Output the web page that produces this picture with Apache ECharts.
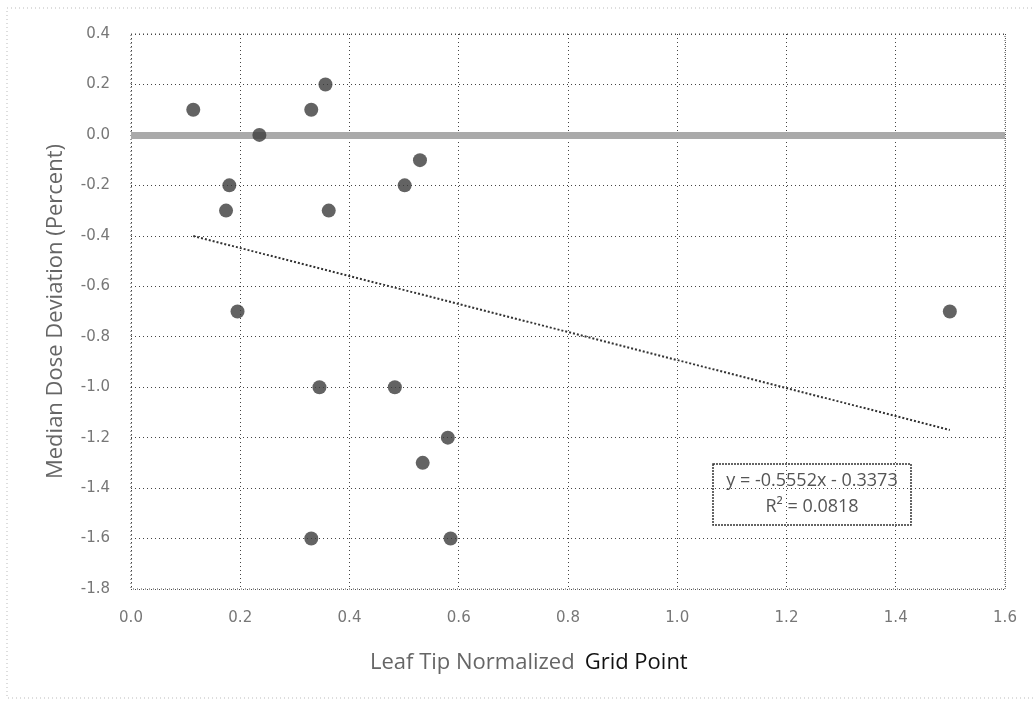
<!DOCTYPE html>
<html>
<head>
<meta charset="utf-8">
<title>Median Dose Deviation</title>
<script src="https://cdn.jsdelivr.net/npm/echarts@6/dist/echarts.min.js"></script>
<style>
  html, body { margin: 0; padding: 0; background: #fff; }
  #chart { width: 1035px; height: 701px; }
</style>
</head>
<body>
<div id="chart"></div>
<script>
// leaf tip normalized grid point (x) and median dose deviation in percent (y)
const gridPoint = [0.114, 0.356, 0.330, 0.235, 0.529, 0.501, 0.180, 0.174, 0.362, 0.195,
  0.345, 0.483, 0.580, 0.534, 0.330, 0.585, 1.499]
const doseDeviation = [0.1, 0.2, 0.1, 0.0, -0.1, -0.2, -0.2, -0.3, -0.3, -0.7,
  -1.0, -1.0, -1.2, -1.3, -1.6, -1.6, -0.7]

// linear trend as printed on the chart
const trendSlope = -0.5552
const trendIntercept = -0.3373
const trendR2 = 0.0818

const xTicks = [0.0, 0.2, 0.4, 0.6, 0.8, 1.0, 1.2, 1.4, 1.6]
const yTicks = [0.4, 0.2, 0.0, -0.2, -0.4, -0.6, -0.8, -1.0, -1.2, -1.4, -1.6, -1.8]

const points = gridPoint.map((x, i) => [x, doseDeviation[i]])
const xMinData = Math.min(...gridPoint)
const xMaxData = Math.max(...gridPoint)
const trendLine = [xMinData, xMaxData].map(x => [x, trendSlope * x + trendIntercept])

const chart = echarts.init(document.getElementById('chart'))

const labelFont = 'Open Sans, DejaVu Sans, sans-serif'
const tickFont = 'DejaVu Sans, sans-serif'
const gridLine = { type: [1, 3], color: '#444', width: 1 }

const option = {
  backgroundColor: '#fff',
  animation: false,
  grid: { left: 131, right: 30, top: 34, bottom: 112 },
  xAxis: {
    type: 'value',
    min: xTicks[0],
    max: xTicks[xTicks.length - 1],
    interval: 0.2,
    axisLine: { show: false },
    axisTick: { show: false },
    splitLine: { show: true, lineStyle: gridLine },
    axisLabel: {
      margin: 22,
      color: '#777',
      fontSize: 15,
      fontFamily: tickFont,
      formatter: v => v.toFixed(1)
    }
  },
  yAxis: {
    type: 'value',
    min: yTicks[yTicks.length - 1],
    max: yTicks[0],
    interval: 0.2,
    axisLine: { show: false },
    axisTick: { show: false },
    splitLine: { show: true, lineStyle: gridLine },
    axisLabel: {
      margin: 21,
      color: '#777',
      fontSize: 15,
      fontFamily: tickFont,
      formatter: v => v.toFixed(1)
    },
    name: 'Median Dose Deviation (Percent)',
    nameLocation: 'middle',
    nameGap: 64,
    nameTextStyle: { color: '#666', fontSize: 22, fontFamily: labelFont }
  },
  series: [
    {
      type: 'line',
      data: trendLine,
      symbol: 'none',
      silent: true,
      z: 3,
      lineStyle: { color: '#333', width: 2, type: [2, 2] }
    },
    {
      type: 'scatter',
      data: points,
      symbol: 'circle',
      symbolSize: 14,
      z: 5,
      itemStyle: { color: '#3c3c3c' },
      markLine: {
        silent: true,
        symbol: 'none',
        label: { show: false },
        lineStyle: { color: '#aaa', width: 7, type: 'solid' },
        data: [{ yAxis: 0 }]
      }
    }
  ],
  graphic: [
    {
      type: 'rect',
      shape: { x: 7, y: 8, width: 1040, height: 690 },
      style: { fill: 'none', stroke: '#bbb', lineWidth: 1, lineDash: [1, 3] },
      silent: true
    },
    {
      type: 'rect',
      shape: { x: 131, y: 34, width: 874, height: 555 },
      style: { fill: 'none', stroke: '#444', lineWidth: 1, lineDash: [1, 3] },
      silent: true,
      z: 1
    },
    {
      type: 'text',
      x: 370,
      y: 663,
      style: {
        text: '{a|Leaf Tip Normalized}   {b|Grid Point}',
        verticalAlign: 'middle',
        rich: {
          a: { fontSize: 22, fill: '#666', fontFamily: labelFont },
          b: { fontSize: 22, fill: '#111', fontFamily: labelFont }
        }
      }
    },
    {
      type: 'group',
      x: 713,
      y: 464,
      z: 10,
      children: [
        {
          type: 'rect',
          shape: { x: 0, y: 0, width: 198, height: 61 },
          style: { fill: 'none', stroke: '#333', lineWidth: 1.5, lineDash: [2, 1] }
        },
        {
          type: 'text',
          x: 99,
          y: 30,
          style: {
            text: 'y = ' + trendSlope.toFixed(4) + 'x - ' + Math.abs(trendIntercept).toFixed(4) +
              '\nR² = ' + trendR2.toFixed(4),
            align: 'center',
            verticalAlign: 'middle',
            fontSize: 18,
            lineHeight: 26,
            fill: '#555',
            fontFamily: labelFont
          }
        }
      ]
    }
  ]
}

chart.setOption(option)
</script>
</body>
</html>
